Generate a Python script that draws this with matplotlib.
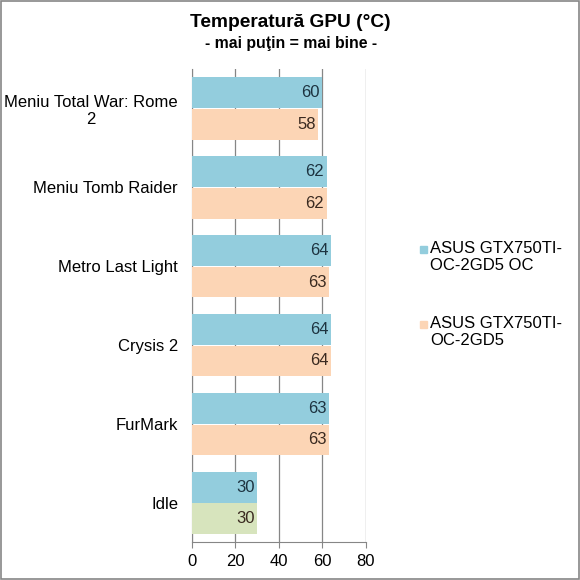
import numpy as np
import matplotlib.pyplot as plt
from matplotlib.patches import Rectangle

plt.rcParams['font.family'] = ['Liberation Sans', 'DejaVu Sans']

categories = ["Meniu Total War: Rome\n2", "Meniu Tomb Raider", "Metro Last Light",
              "Crysis 2", "FurMark", "Idle"]
oc_values = [60, 62, 64, 64, 63, 30]
std_values = [58, 62, 63, 64, 63, 30]
series_names = ["ASUS GTX750TI-\nOC-2GD5 OC", "ASUS GTX750TI-\nOC-2GD5"]

blue = "#93CDDD"
peach = "#FCD5B5"
green = "#D7E4BD"
std_colors = [peach] * 5 + [green]

fig = plt.figure(figsize=(5.8, 5.8), dpi=100)
ax = fig.add_axes([0.331, 0.0647, 0.30, 0.8163])

y = np.arange(len(categories))
h = 0.39
off = 0.2
b1 = ax.barh(y - off, oc_values, height=h, color=blue, zorder=3)
b2 = ax.barh(y + off, std_values, height=h, color=std_colors, zorder=3)

# etichete cu valori
for bar, v in zip(b1, oc_values):
    ax.text(v - 1.2, bar.get_y() + bar.get_height() / 2, str(v), ha="right",
            va="center", fontsize=12, color="#1d3340", zorder=4)
for bar, v in zip(b2, std_values):
    ax.text(v - 1.2, bar.get_y() + bar.get_height() / 2, str(v), ha="right",
            va="center", fontsize=12, color="#3a2a20", zorder=4)

ax.set_xlim(0, 80)
ax.set_ylim(len(categories) - 0.5, -0.5)
ax.set_xticks([0, 20, 40, 60, 80])
ax.set_yticks(y)
ax.set_yticklabels(categories, fontsize=12, multialignment="center")
ax.tick_params(axis="x", labelsize=12, length=4, color="#868686", pad=4)
ax.tick_params(axis="y", length=0, pad=10)
ax.grid(axis="x", color="#868686", linewidth=0.9, zorder=0)
for s in ["top", "right"]:
    ax.spines[s].set_visible(False)
for s in ["left", "bottom"]:
    ax.spines[s].set_color("#868686")

fig.text(0.5, 0.962, "Temperatură GPU (°C)", ha="center", va="center",
         fontsize=13.8, fontweight="bold")
fig.text(0.502, 0.925, "- mai puţin = mai bine -", ha="center", va="center",
         fontsize=11.4, fontweight="bold")

# legenda
for i, (name, col) in enumerate(zip(series_names, [blue, peach])):
    ly = 1 - (250 + i * 75) / 580
    fig.patches.append(Rectangle((0.724, ly - 0.006), 0.013, 0.013,
                                 transform=fig.transFigure, color=col))
    fig.text(0.741, ly + 0.016, name, ha="left", va="top", fontsize=12,
             linespacing=1.2)

fig.patches.append(Rectangle((0.001, 0.001), 0.997, 0.997, transform=fig.transFigure,
                             fill=False, edgecolor="#868686", linewidth=1.2))

fig.savefig("out.png", dpi=100)
